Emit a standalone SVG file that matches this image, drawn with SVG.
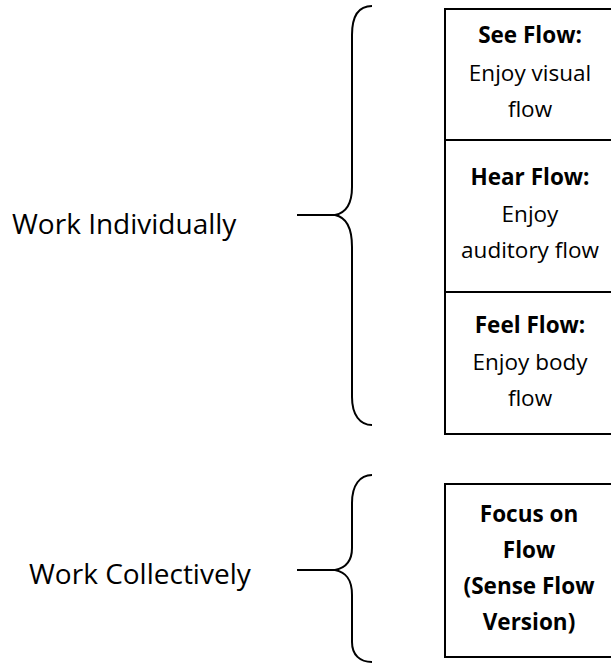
<svg xmlns="http://www.w3.org/2000/svg" width="611" height="663" viewBox="0 0 611 663">
<style>
.lbl{font-family:"Open Sans","Liberation Sans",sans-serif;font-size:28px;fill:#000}
.t{font-family:"Open Sans","Liberation Sans",sans-serif;font-size:22.5px;fill:#000;text-anchor:middle}
.b{font-weight:bold}
.box{fill:#fff;stroke:#000;stroke-width:2}
.con{fill:none;stroke:#000;stroke-width:2}
</style>
<rect width="611" height="663" fill="#fff"/>
<g id="connectors">
<line class="con" x1="297" y1="215" x2="336" y2="215"/>
<path class="con" d="M372,6 C360,6 352,14 352,35 L352,187 C352,205 345,213 335,215 C345,217 352,225 352,247 L352,397 C352,415 360,425 372,425"/>
<line class="con" x1="297" y1="570" x2="336" y2="570"/>
<path class="con" d="M372,475 C360,475 352,485 352,503 L352,548 C352,562 345,568 335,570 C345,572 352,578 352,595 L352,642 C352,655 360,662 372,662"/>
</g>
<g id="work-individually">
<text class="lbl" x="12" y="234">Work Individually</text>
</g>
<g id="work-collectively">
<text class="lbl" x="29" y="584">Work Collectively</text>
</g>
<g id="see-flow">
<rect class="box" x="445" y="9" width="175" height="131"/>
<text class="t b" x="530" y="43">See Flow:</text>
<text class="t" x="530" y="81">Enjoy visual</text>
<text class="t" x="530" y="117">flow</text>
</g>
<g id="hear-flow">
<rect class="box" x="445" y="140" width="175" height="152"/>
<text class="t b" x="530" y="185">Hear Flow:</text>
<text class="t" x="530" y="222">Enjoy</text>
<text class="t" x="530" y="258">auditory flow</text>
</g>
<g id="feel-flow">
<rect class="box" x="445" y="292" width="175" height="142"/>
<text class="t b" x="530" y="333">Feel Flow:</text>
<text class="t" x="530" y="370">Enjoy body</text>
<text class="t" x="530" y="406">flow</text>
</g>
<g id="focus-on-flow">
<rect class="box" x="445" y="484" width="175" height="173"/>
<text class="t b" x="529" y="522">Focus on</text>
<text class="t b" x="529" y="558">Flow</text>
<text class="t b" x="529" y="594">(Sense Flow</text>
<text class="t b" x="529" y="630">Version)</text>
</g>
</svg>
